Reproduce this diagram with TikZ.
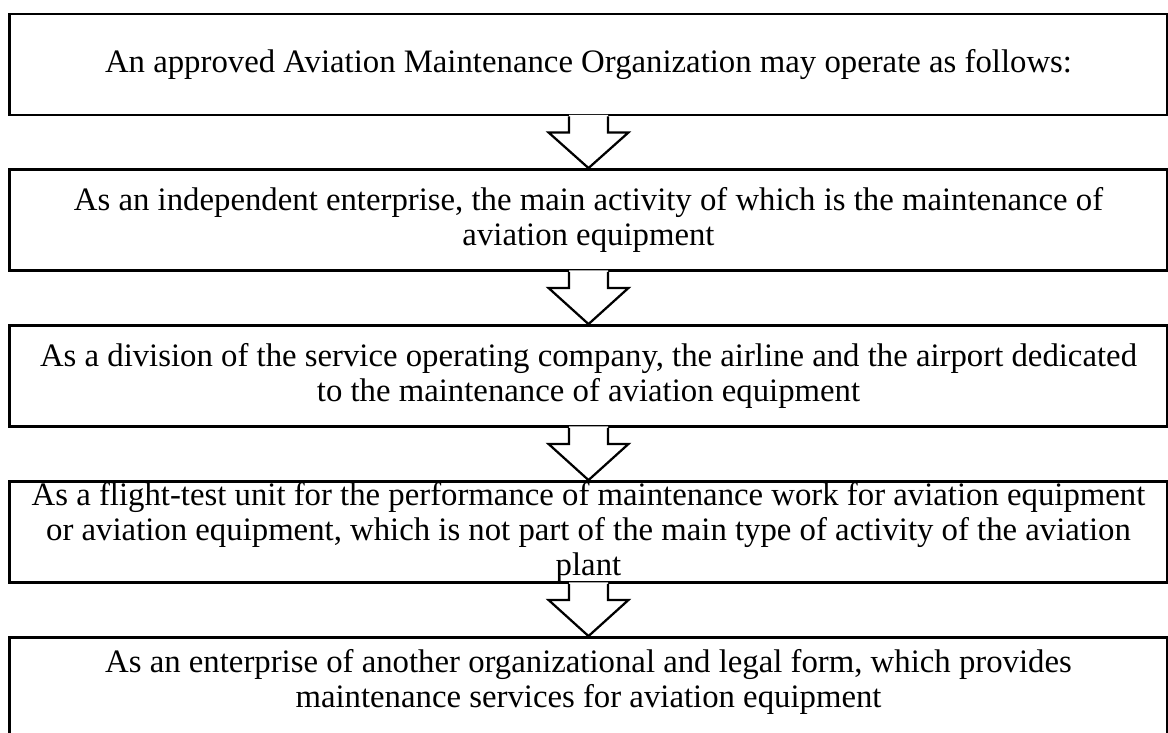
\documentclass[tikz,border=0pt]{standalone}
\usepackage{fontspec}
\setmainfont{Liberation Serif}
\usetikzlibrary{calc}

\tikzset{
  stagebox/.style={draw, line width=2pt, minimum width=28.925cm, minimum height=2.525cm,
    inner sep=0pt, align=center, font=\fontsize{23.3}{24.9}\selectfont},
  flowarrow/.style={line width=1.6pt, line join=miter}
}

\begin{document}
\begin{tikzpicture}[x=0.025cm, y=-0.025cm]
  \useasboundingbox (0,0) rectangle (1168,732);
  \clip (0,0) rectangle (1168,732);

  % stages of the organization
  \node[stagebox] (b1) at (588.5,64.5) {An approved Aviation Maintenance Organization may operate as follows:};
  \node[stagebox] (b2) at (588.5,220) {As an independent enterprise, the main activity of which is the maintenance of\\ aviation equipment};
  \node[stagebox] (b3) at (588.5,376) {As a division of the service operating company, the airline and the airport dedicated\\ to the maintenance of aviation equipment};
  \node[stagebox] (b4) at (588.5,532) {As a flight-test unit for the performance of maintenance work for aviation equipment\\ or aviation equipment, which is not part of the main type of activity of the aviation\\ plant};
  \node[stagebox, text depth=14pt] (b5) at (588.5,688) {As an enterprise of another organizational and legal form, which provides\\ maintenance services for aviation equipment};

  % block arrows between the boxes
  \foreach \a/\b in {b1/b2,b2/b3,b3/b4,b4/b5}{
    \fill[white] ($(\a.south)+(-19.5,-1.5)$) -- ($(\a.south)+(-19.5,16)$) -- ($(\a.south)+(-40,16)$)
      -- (\b.north) -- ($(\a.south)+(40,16)$) -- ($(\a.south)+(19.5,16)$) -- ($(\a.south)+(19.5,-1.5)$) -- cycle;
    \draw[flowarrow] ($(\a.south)+(-19.5,0)$) -- ++(0,16) -- ++(-20.5,0) -- (\b.north)
      -- ($(\a.south)+(40,16)$) -- ++(-20.5,0) -- ++(0,-16);
  }
\end{tikzpicture}
\end{document}
